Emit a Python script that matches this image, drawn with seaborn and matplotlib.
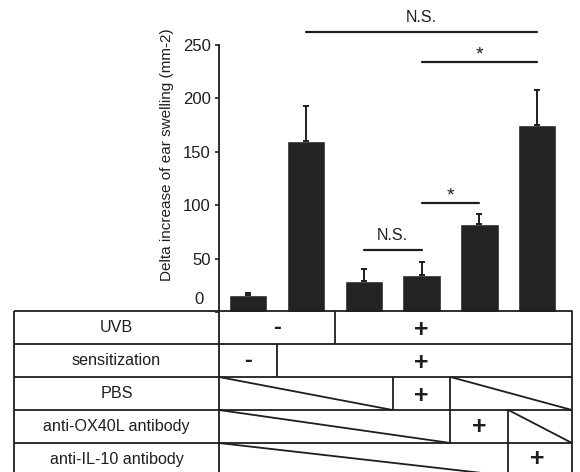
import numpy as np
import pandas as pd
import matplotlib
matplotlib.use("Agg")
import matplotlib.pyplot as plt
import seaborn as sns
from matplotlib.transforms import ScaledTranslation

# bar data (delta ear swelling, mean and upper SEM)
groups   = ["G1", "G2", "G3", "G4", "G5", "G6"]
swelling = [16, 160, 29, 35, 82, 175]
sem      = [2, 33, 11, 12, 10, 33]
yticks   = [0, 50, 100, 150, 200, 250]

# treatment table
row_names = ["UVB", "sensitization", "PBS", "anti-OX40L antibody", "anti-IL-10 antibody"]
uvb   = ["-", "-", "+", "+", "+", "+"]
sens  = ["-", "+", "+", "+", "+", "+"]
pbs   = ["-", "-", "-", "+", "-", "-"]
ox40l = ["-", "-", "-", "-", "+", "-"]
il10  = ["-", "-", "-", "-", "-", "+"]

# significance brackets: (from group, to group, label, height)
comparisons = [(1, 5, "N.S.", 262), (3, 5, "*", 234), (3, 4, "*", 102), (2, 3, "N.S.", 58)]

sns.set_style("ticks")
plt.rcParams["font.family"] = ["Liberation Sans", "DejaVu Sans"]
INK = "#1e1e1e"

W, H = 580, 472
fig = plt.figure(figsize=(W / 100, H / 100), dpi=100)
ax = fig.add_axes([219 / W, (H - 312) / H, 353 / W, 267 / H])

df = pd.DataFrame({"group": groups, "swelling": swelling})
sns.barplot(data=df, x="group", y="swelling", color="#232323", width=0.66,
            errorbar=None, saturation=1, ax=ax)
ax.errorbar(range(len(groups)), swelling, yerr=[[0] * len(sem), sem], fmt="none",
            ecolor=INK, elinewidth=1.4, capsize=2, capthick=1.4, zorder=3)

XMAX = 5.6
ax.set_xlim(-0.5, XMAX)
ax.set_ylim(0, 250)
ax.set_xticks([])
ax.set_xlabel("")
ax.set_yticks(yticks)
ax.set_yticklabels([str(t) for t in yticks])
ax.tick_params(axis="y", length=3, width=1.2, pad=3, labelsize=12, colors=INK)
for s in ["top", "right", "bottom"]:
    ax.spines[s].set_visible(False)
ax.spines["left"].set_linewidth(1.3)
ax.spines["left"].set_color(INK)
ax.set_ylabel("Delta increase of ear swelling (mm-2)", fontsize=11, color=INK)
ax.yaxis.set_label_coords(-0.127, 0.59)

# the "0" label sits a little higher and further left
zt = ax.yaxis.get_major_ticks()[0]
zt.label1.set_transform(zt.label1.get_transform() +
                        ScaledTranslation(-0.07, 0.14, fig.dpi_scale_trans))

for i, j, lab, h in comparisons:
    ax.plot([i, j], [h, h], color=INK, lw=1.6, clip_on=False)
    if lab == "*":
        ax.annotate(lab, ((i + j) / 2, h), xytext=(0, 2), textcoords="offset points",
                    ha="center", va="baseline", fontsize=14, color=INK,
                    annotation_clip=False)
    else:
        ax.annotate(lab, ((i + j) / 2, h), xytext=(0, 7.5), textcoords="offset points",
                    ha="center", va="baseline", fontsize=11.5, color=INK,
                    annotation_clip=False)

# treatment table below the bars
px_unit = 353 / (XMAX + 0.5)
x0 = -0.5 - 205 / px_unit
row_h = 33
tab = fig.add_axes([14 / W, (H - 311 - 5 * row_h) / H, 558 / W, 5 * row_h / H])
tab.set_xlim(x0, XMAX)
tab.set_ylim(5, 0)
tab.axis("off")
lw = 1.3
kw = dict(color=INK, lw=lw, clip_on=False, solid_capstyle="butt")

tab.plot([x0, XMAX, XMAX, x0, x0], [0, 0, 5, 5, 0], **kw)
tab.plot([-0.5, -0.5], [0, 5], **kw)
for r in range(1, 5):
    tab.plot([x0, XMAX], [r, r], **kw)

plus_col = pbs.index("+")
for r, (name, row) in enumerate(zip(row_names, [uvb, sens, pbs, ox40l, il10])):
    tab.text((x0 - 0.5) / 2, r + 0.5, name, ha="center", va="center",
             fontsize=11.6, color=INK)
    plus_y = r + (0.58 if r < 3 else 0.5)
    # runs of identical values
    runs = []
    start = 0
    for k in range(1, len(row) + 1):
        if k == len(row) or row[k] != row[start]:
            runs.append((start, k - 1, row[start]))
            start = k
    for a, b, v in runs:
        left = a - 0.5
        right = XMAX if b == len(row) - 1 else b + 0.5
        if b != len(row) - 1:
            tab.plot([right, right], [r, r + 1], **kw)
        if r < 2:
            if v == "-":
                tab.text((a + b) / 2, r + 0.5, "-", ha="center", va="center",
                         fontsize=17, fontweight="bold", color=INK)
            else:
                tab.text(plus_col, plus_y, "+", ha="center", va="center",
                         fontsize=18, fontweight="bold", color=INK)
        else:
            if v == "-":
                tab.plot([left, right], [r, r + 1], **kw)
            else:
                tab.text((a + b) / 2, plus_y, "+", ha="center", va="center",
                         fontsize=18, fontweight="bold", color=INK)

fig.savefig("out.png", dpi=100, facecolor="white")
